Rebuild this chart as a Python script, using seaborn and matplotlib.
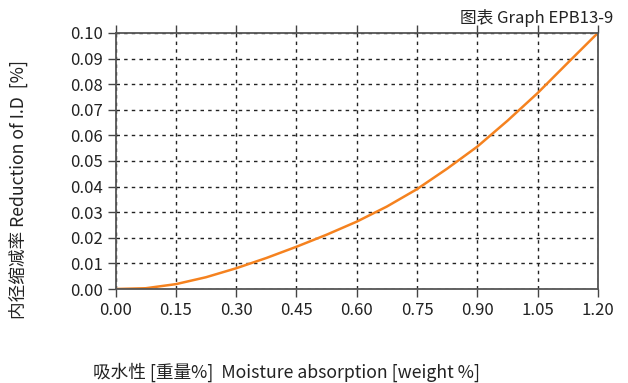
"""Reduction of I.D vs moisture absorption (Graph EPB13-9)."""

import pandas as pd
import seaborn as sns
import matplotlib.pyplot as plt
import numpy as np

# values
absorption = [0.0, 0.075, 0.15, 0.225, 0.30, 0.375, 0.45, 0.525, 0.60,
              0.675, 0.75, 0.825, 0.90, 0.975, 1.05, 1.125, 1.20]
reduction = [0.0, 0.0003, 0.0019, 0.0046, 0.0081, 0.0121, 0.0165, 0.0212, 0.0263,
             0.0322, 0.0390, 0.0470, 0.0556, 0.0657, 0.0765, 0.0883, 0.1000]

x_ticks = [0.00, 0.15, 0.30, 0.45, 0.60, 0.75, 0.90, 1.05, 1.20]
y_ticks = [0.00, 0.01, 0.02, 0.03, 0.04, 0.05, 0.06, 0.07, 0.08, 0.09, 0.10]


def main():
    sns.set_style('white')
    plt.rcParams['font.family'] = ['Noto Sans CJK SC', 'DejaVu Sans']

    df = pd.DataFrame({'x': absorption, 'y': reduction})

    fig = plt.figure(figsize=(6.28, 3.83), dpi=100)
    ax = fig.add_axes([0.184, 0.2454, 0.768, 0.6686])

    sns.lineplot(data=df, x='x', y='y', ax=ax, color='#F5821F', linewidth=1.8)

    ax.set_xlim(0, 1.2)
    ax.set_ylim(0, 0.1)
    ax.set_xticks(x_ticks)
    ax.set_yticks(y_ticks)
    ax.set_xticklabels([f'{v:.2f}' for v in x_ticks])
    ax.set_yticklabels([f'{v:.2f}' for v in y_ticks])
    ax.tick_params(axis='both', labelsize=12, colors='#444444', length=6,
                   width=1, direction='out')
    ax.tick_params(axis='x', top=True, bottom=True, pad=3)
    ax.tick_params(axis='y', left=True, right=False, pad=3)
    for lbl in ax.get_xticklabels() + ax.get_yticklabels():
        lbl.set_color('#222222')

    ax.grid(True, color='#222222', linestyle=(0, (2.5, 3)), linewidth=1.0)
    ax.set_axisbelow(True)
    for spine in ax.spines.values():
        spine.set_color('#555555')
        spine.set_linewidth(1.3)

    ax.set_xlabel('')
    ax.set_ylabel('内径缩减率 Reduction of I.D  [%]', fontsize=12.7, color='#222222')
    ax.yaxis.set_label_coords(-0.182, 0.39)

    fig.text(0.148, 1 - 372 / 383, '吸水性 [重量%]  Moisture absorption [weight %]',
             fontsize=12.7, ha='left', va='center', color='#222222')
    fig.text(0.976, 1 - 18 / 383, '图表 Graph EPB13-9', fontsize=12,
             ha='right', va='center', color='#222222')

    fig.savefig('out.png', dpi=100, facecolor='white')
    plt.close(fig)


if __name__ == '__main__':
    main()
